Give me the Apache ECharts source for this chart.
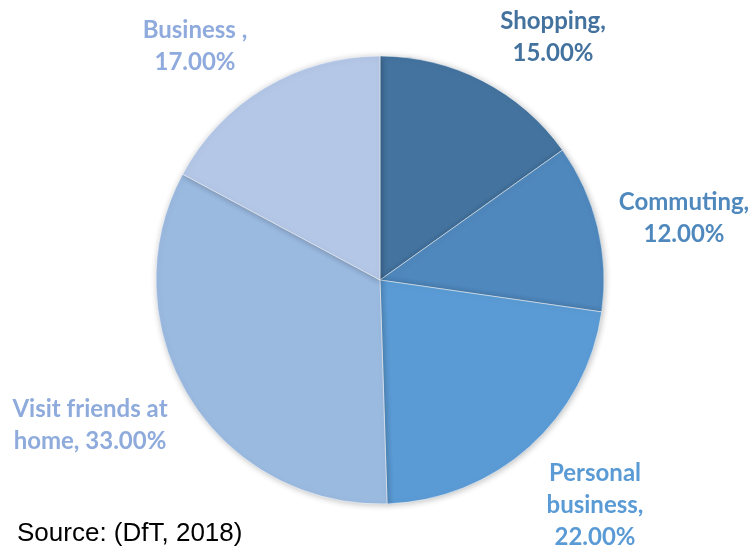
<!DOCTYPE html>
<html>
<head>
<meta charset="utf-8">
<script src="https://cdn.jsdelivr.net/npm/echarts@6/dist/echarts.min.js"></script>
<style>
  html, body { margin: 0; padding: 0; background: #fff; }
  #main { width: 753px; height: 549px; }
</style>
</head>
<body>
<div id="main"></div>
<script>
// trip purpose shares, clockwise from 12 o'clock
var categories = ['Shopping', 'Commuting', 'Personal business', 'Visit friends at home', 'Business '];
var shares = [15, 12, 22, 33, 17];
// label text as it is broken in the original
var labelNames = ['Shopping,', 'Commuting,', 'Personal\nbusiness,', 'Visit friends at\nhome,', 'Business ,'];

var sliceColors = ['#44739f', '#4f88bd', '#5b9bd5', '#9bbae0', '#b4c7e7'];
var labelColors = ['#44729e', '#4f88bd', '#5b9bd5', '#8eabdc', '#8faadc'];
var labelPos = [[553, 37], [684, 218], [595, 505], [90, 425], [195, 46]];

var chart = echarts.init(document.getElementById('main'));

var option = {
    backgroundColor: '#fff',
    animation: false,
    graphic: [{
        type: 'text',
        x: 17,
        y: 534,
        style: {
            text: 'Source: (DfT, 2018)',
            font: '26px "Liberation Sans", Arial, sans-serif',
            fill: '#000',
            verticalAlign: 'middle'
        }
    }],
    series: [{
        type: 'pie',
        center: [380, 280],
        radius: 224,
        startAngle: 90,
        clockwise: true,
        itemStyle: {
            borderColor: '#fff',
            borderWidth: 0.5,
            shadowBlur: 6,
            shadowColor: 'rgba(0,0,0,0.25)',
            shadowOffsetX: 1,
            shadowOffsetY: 1
        },
        label: {
            show: true,
            position: 'outside',
            overflow: 'none',
            fontFamily: 'Lato, "Open Sans", sans-serif',
            fontWeight: 'bold',
            fontSize: 24,
            lineHeight: 32,
            align: 'center',
            formatter: function (p) {
                return labelNames[p.dataIndex] + (p.dataIndex === 3 ? ' ' : '\n') + p.value.toFixed(2) + '%';
            }
        },
        labelLine: { show: false },
        labelLayout: function (p) {
            var pos = labelPos[p.dataIndex];
            return { x: pos[0], y: pos[1], align: 'center', verticalAlign: 'middle', hideOverlap: false };
        },
        data: categories.map(function (c, i) {
            return {
                name: c,
                value: shares[i],
                itemStyle: { color: sliceColors[i] },
                label: { color: labelColors[i] }
            };
        })
    }]
};

chart.setOption(option);
</script>
</body>
</html>
